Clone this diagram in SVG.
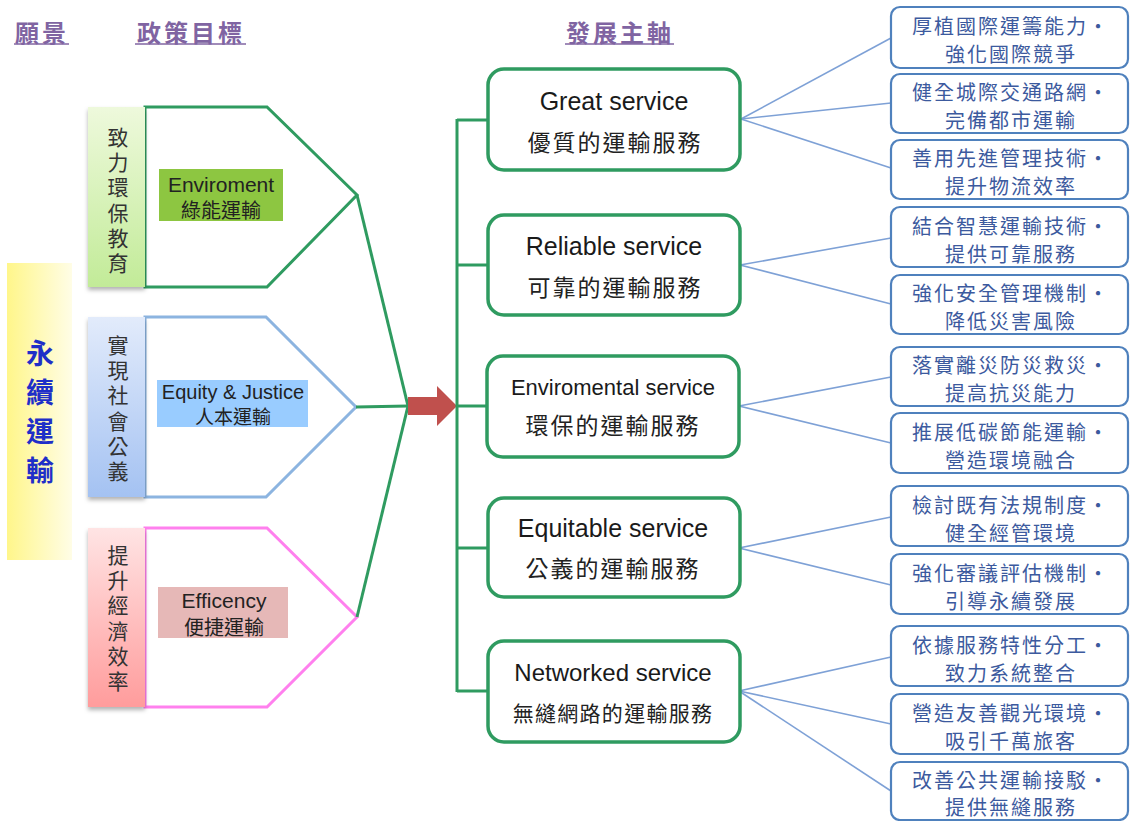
<svg xmlns="http://www.w3.org/2000/svg" width="1130" height="821" viewBox="0 0 1130 821">
<defs>
<linearGradient id="gVision" x1="0" y1="0" x2="1" y2="0">
<stop offset="0" stop-color="#fff68a"/><stop offset="1" stop-color="#fffde6"/>
</linearGradient>
<linearGradient id="gGreen" x1="0" y1="0" x2="0" y2="1">
<stop offset="0" stop-color="#eef9dc"/><stop offset="1" stop-color="#c2eb98"/>
</linearGradient>
<linearGradient id="gBlue" x1="0" y1="0" x2="0" y2="1">
<stop offset="0" stop-color="#e2ebfb"/><stop offset="1" stop-color="#a4c2f2"/>
</linearGradient>
<linearGradient id="gPink" x1="0" y1="0" x2="0" y2="1">
<stop offset="0" stop-color="#ffe4e4"/><stop offset="1" stop-color="#ff9c9c"/>
</linearGradient>
<filter id="sh" x="-20%" y="-10%" width="140%" height="125%">
<feDropShadow dx="0" dy="3" stdDeviation="2" flood-color="#000" flood-opacity="0.3"/>
</filter>
</defs>
<style>
.hdr{font-family:"Noto Sans CJK TC","Noto Sans CJK SC",sans-serif;font-size:24px;font-weight:bold;fill:#8064a2;text-anchor:middle;dominant-baseline:central;letter-spacing:3px}
.hline{stroke:#8064a2;stroke-width:1.5}
.vis{font-family:"Noto Sans CJK TC",sans-serif;font-size:28px;font-weight:bold;fill:#1f2fc8;writing-mode:vertical-rl;text-orientation:upright;letter-spacing:11px}
.tabt{font-family:"Noto Sans CJK TC",sans-serif;font-size:21px;fill:#333;writing-mode:vertical-rl;text-orientation:upright;letter-spacing:4.2px}
.lbl{font-family:"Liberation Sans",Arial,sans-serif;fill:#222;text-anchor:middle;dominant-baseline:central}
.lblc{font-family:"Noto Sans CJK TC",sans-serif;fill:#222;text-anchor:middle;dominant-baseline:central}
.pent{fill:#fff;stroke-width:3;stroke-linejoin:miter}
.svc{fill:#fff;stroke:#2f9b60;stroke-width:3.5}
.svE{font-family:"Liberation Sans",Arial,sans-serif;fill:#1a1a1a;text-anchor:middle;dominant-baseline:central}
.svC{font-family:"Noto Sans CJK TC",sans-serif;fill:#222;text-anchor:middle;dominant-baseline:central}
.rb{fill:#fff;stroke:#4f81bd;stroke-width:2.2}
.rt{font-family:"Noto Sans CJK TC",sans-serif;font-size:20px;fill:#3c5a9e;text-anchor:middle;dominant-baseline:central;letter-spacing:2px}
.gl{stroke:#2f9b60;stroke-width:3;fill:none}
.bl{stroke:#7ea1d6;stroke-width:1.6;fill:none}
</style>

<g id="headers">
<text class="hdr" x="42" y="31">願景</text>
<line class="hline" x1="14" y1="44" x2="69" y2="44"/>
<text class="hdr" x="191" y="31">政策目標</text>
<line class="hline" x1="135" y1="44" x2="246" y2="44"/>
<text class="hdr" x="620" y="31">發展主軸</text>
<line class="hline" x1="565" y1="44" x2="674" y2="44"/>
</g>

<g id="vision">
<rect x="7" y="263" width="65" height="297" fill="url(#gVision)"/>
<text class="vis" x="40" y="339">永續運輸</text>
</g>

<g id="goal-environment">
<path class="pent" stroke="#2f9b60" d="M145,107 H267 L357,195 L267,287 H145 Z"/>
<rect x="88" y="107" width="57" height="180" fill="url(#gGreen)" filter="url(#sh)"/>
<text class="tabt" x="118" y="126.5">致力環保教育</text>
<rect x="159" y="169" width="124" height="52" fill="#8dc641"/>
<text class="lbl" x="221" y="184" style="font-size:21px">Enviroment</text>
<text class="lblc" x="221" y="209" style="font-size:20px">綠能運輸</text>
</g>

<g id="goal-equity">
<path class="pent" stroke="#8cb4e0" d="M145,317 H266 L356,407 L266,497 H145 Z"/>
<rect x="88" y="317" width="57" height="180" fill="url(#gBlue)" filter="url(#sh)"/>
<text class="tabt" x="118" y="334.5">實現社會公義</text>
<rect x="157" y="380" width="151" height="47" fill="#99ccff"/>
<text class="lbl" x="233" y="392" style="font-size:20px">Equity &amp; Justice</text>
<text class="lblc" x="233" y="415" style="font-size:19px">人本運輸</text>
</g>

<g id="goal-efficiency">
<path class="pent" stroke="#ff80ee" d="M145,528 H267 L357,617 L267,707 H145 Z"/>
<rect x="88" y="528" width="57" height="179" fill="url(#gPink)" filter="url(#sh)"/>
<text class="tabt" x="118" y="544.5">提升經濟效率</text>
<rect x="158" y="587" width="130" height="51" fill="#e6b8b7"/>
<text class="lbl" x="224" y="600" style="font-size:21px">Efficency</text>
<text class="lblc" x="224" y="626" style="font-size:20px">便捷運輸</text>
</g>

<g id="connectors">
<line class="gl" x1="357" y1="195" x2="408" y2="406"/>
<line class="gl" x1="356" y1="407" x2="408" y2="406"/>
<line class="gl" x1="357" y1="617" x2="408" y2="406"/>
<polygon fill="#c0504d" points="408,397 437,397 437,386 457,406 437,426 437,415 408,415"/>
<line class="gl" x1="457" y1="119" x2="457" y2="692"/>
<line class="gl" x1="457" y1="120" x2="488" y2="120"/>
<line class="gl" x1="457" y1="265" x2="488" y2="265"/>
<line class="gl" x1="457" y1="406" x2="488" y2="406"/>
<line class="gl" x1="457" y1="548" x2="488" y2="548"/>
<line class="gl" x1="457" y1="691" x2="488" y2="691"/>
<line class="bl" x1="741" y1="119" x2="891" y2="38"/>
<line class="bl" x1="741" y1="119" x2="891" y2="103"/>
<line class="bl" x1="741" y1="119" x2="891" y2="168"/>
<line class="bl" x1="740" y1="265" x2="891" y2="238"/>
<line class="bl" x1="740" y1="265" x2="891" y2="304"/>
<line class="bl" x1="739" y1="406" x2="891" y2="377"/>
<line class="bl" x1="739" y1="406" x2="891" y2="443"/>
<line class="bl" x1="739" y1="548" x2="891" y2="517"/>
<line class="bl" x1="739" y1="548" x2="891" y2="585"/>
<line class="bl" x1="739" y1="691" x2="891" y2="657"/>
<line class="bl" x1="739" y1="691" x2="891" y2="724"/>
<line class="bl" x1="739" y1="691" x2="891" y2="791"/>
</g>

<g id="svc-great">
<rect class="svc" x="488" y="69" width="252" height="101" rx="16"/>
<text class="svE" x="614" y="101" style="font-size:25px">Great service</text>
<text class="svC" x="615" y="141" style="font-size:23px;letter-spacing:2px">優質的運輸服務</text>
</g>
<g id="svc-reliable">
<rect class="svc" x="488" y="215" width="252" height="100" rx="16"/>
<text class="svE" x="614" y="246" style="font-size:25px">Reliable service</text>
<text class="svC" x="615" y="286" style="font-size:23px;letter-spacing:2px">可靠的運輸服務</text>
</g>
<g id="svc-environmental">
<rect class="svc" x="487" y="356" width="252" height="101" rx="16"/>
<text class="svE" x="613" y="387" style="font-size:22px">Enviromental service</text>
<text class="svC" x="613" y="424" style="font-size:23px;letter-spacing:2px">環保的運輸服務</text>
</g>
<g id="svc-equitable">
<rect class="svc" x="488" y="498" width="252" height="99" rx="16"/>
<text class="svE" x="613" y="528" style="font-size:25px">Equitable service</text>
<text class="svC" x="613" y="567" style="font-size:23px;letter-spacing:2px">公義的運輸服務</text>
</g>
<g id="svc-networked">
<rect class="svc" x="488" y="641" width="252" height="101" rx="16"/>
<text class="svE" x="613" y="672" style="font-size:24px">Networked service</text>
<text class="svC" x="613" y="712" style="font-size:21px;letter-spacing:1.3px">無縫網路的運輸服務</text>
</g>

<g id="strat-1"><rect class="rb" x="891" y="7" width="237" height="61" rx="9"/>
<text class="rt" x="1011" y="25">厚植國際運籌能力・</text><text class="rt" x="1011" y="53">強化國際競爭</text></g>
<g id="strat-2"><rect class="rb" x="891" y="74" width="237" height="59" rx="9"/>
<text class="rt" x="1011" y="91">健全城際交通路網・</text><text class="rt" x="1011" y="119">完備都市運輸</text></g>
<g id="strat-3"><rect class="rb" x="891" y="140" width="237" height="59" rx="9"/>
<text class="rt" x="1011" y="157">善用先進管理技術・</text><text class="rt" x="1011" y="185">提升物流效率</text></g>
<g id="strat-4"><rect class="rb" x="891" y="207" width="237" height="60" rx="9"/>
<text class="rt" x="1011" y="225">結合智慧運輸技術・</text><text class="rt" x="1011" y="253">提供可靠服務</text></g>
<g id="strat-5"><rect class="rb" x="891" y="275" width="237" height="59" rx="9"/>
<text class="rt" x="1011" y="292">強化安全管理機制・</text><text class="rt" x="1011" y="320">降低災害風險</text></g>
<g id="strat-6"><rect class="rb" x="891" y="347" width="237" height="59" rx="9"/>
<text class="rt" x="1011" y="364">落實離災防災救災・</text><text class="rt" x="1011" y="392">提高抗災能力</text></g>
<g id="strat-7"><rect class="rb" x="891" y="413" width="237" height="60" rx="9"/>
<text class="rt" x="1011" y="431">推展低碳節能運輸・</text><text class="rt" x="1011" y="459">營造環境融合</text></g>
<g id="strat-8"><rect class="rb" x="891" y="486" width="237" height="60" rx="9"/>
<text class="rt" x="1011" y="504">檢討既有法規制度・</text><text class="rt" x="1011" y="532">健全經管環境</text></g>
<g id="strat-9"><rect class="rb" x="891" y="554" width="237" height="60" rx="9"/>
<text class="rt" x="1011" y="572">強化審議評估機制・</text><text class="rt" x="1011" y="600">引導永續發展</text></g>
<g id="strat-10"><rect class="rb" x="891" y="626" width="237" height="60" rx="9"/>
<text class="rt" x="1011" y="644">依據服務特性分工・</text><text class="rt" x="1011" y="672">致力系統整合</text></g>
<g id="strat-11"><rect class="rb" x="891" y="694" width="237" height="60" rx="9"/>
<text class="rt" x="1011" y="712">營造友善觀光環境・</text><text class="rt" x="1011" y="740">吸引千萬旅客</text></g>
<g id="strat-12"><rect class="rb" x="891" y="762" width="237" height="58" rx="9"/>
<text class="rt" x="1011" y="779">改善公共運輸接駁・</text><text class="rt" x="1011" y="806">提供無縫服務</text></g>
</svg>
